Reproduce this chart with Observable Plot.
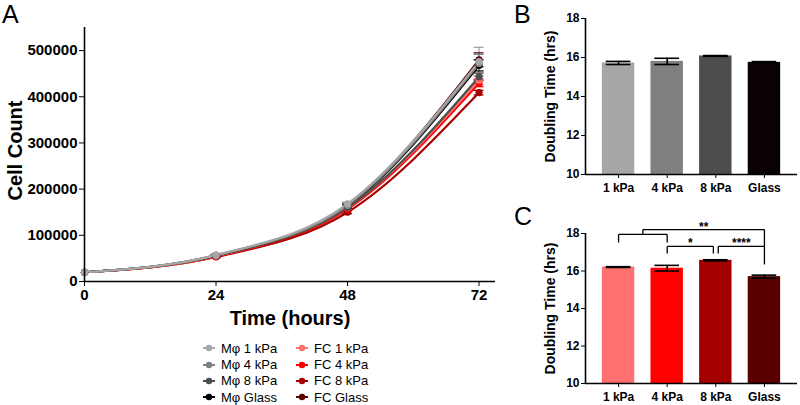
<!DOCTYPE html>
<html><head><meta charset="utf-8">
<script src="https://cdn.jsdelivr.net/npm/d3@7"></script>
<script src="https://cdn.jsdelivr.net/npm/@observablehq/plot@0.6"></script>
<style>
body{margin:0;background:#fff;}
#root{position:relative;width:800px;height:405px;overflow:hidden;font-family:"Liberation Sans",Arial,sans-serif;color:#000}
.panel{position:absolute}
.panel svg{overflow:visible}
.letter{position:absolute;font-size:25px;line-height:1}
#legend{position:absolute;left:203px;top:340px;display:grid;grid-template-columns:93px 93px;grid-auto-rows:16.4px;font-size:13px}
.item{display:flex;align-items:center;white-space:nowrap}
.item svg{margin-right:6px}
</style></head>
<body><div id="root">
<div id="A" class="panel" style="left:0;top:0"></div>
<div id="B" class="panel" style="left:540px;top:0"></div>
<div id="C" class="panel" style="left:540px;top:200px"></div>
<div class="letter" style="left:2px;top:2px">A</div>
<div class="letter" style="left:514px;top:2px">B</div>
<div class="letter" style="left:514px;top:204px">C</div>
<div id="legend"></div>
</div>
<script>
// ---------- Panel A data ----------
const times = [0, 24, 48, 72];
const seriesNames = ["Mφ 1 kPa", "Mφ 4 kPa", "Mφ 8 kPa", "Mφ Glass", "FC 1 kPa", "FC 4 kPa", "FC 8 kPa", "FC Glass"];
const seriesColors = ["#a6a6a6", "#808080", "#4d4d4d", "#000000", "#ff7070", "#ff0000", "#a80000", "#5c0000"];
const mphi1kPa  = [20000, 57000, 168000, 476000];
const mphi4kPa  = [20000, 57000, 165000, 472000];
const mphi8kPa  = [20000, 56000, 160000, 443000];
const mphiGlass = [20000, 56000, 163000, 468000];
const fc1kPa    = [20000, 55000, 160000, 436000];
const fc4kPa    = [20000, 54000, 157000, 430000];
const fc8kPa    = [20000, 53000, 150000, 409000];
const fcGlass   = [20000, 56000, 166000, 480000];
const mphi1kPaErr  = [0, 2000, 4000, 31000];
const mphi4kPaErr  = [0, 2000, 4000, 20000];
const mphi8kPaErr  = [0, 2000, 3000, 8000];
const mphiGlassErr = [0, 2000, 3000, 12000];
const fc1kPaErr    = [0, 2000, 3000, 10000];
const fc4kPaErr    = [0, 2000, 3000, 8000];
const fc8kPaErr    = [0, 2000, 3000, 5000];
const fcGlassErr   = [0, 2000, 4000, 15000];
const cellTicks = [0, 100000, 200000, 300000, 400000, 500000];

// ---------- Panels B / C data ----------
const stiffness = ["1 kPa", "4 kPa", "8 kPa", "Glass"];
const mphiDoubling = [15.72, 15.80, 16.08, 15.75];
const mphiDoublingErr = [0.08, 0.16, 0.02, 0.04];
const fcDoubling = [16.21, 16.15, 16.57, 15.70];
const fcDoublingErr = [0.02, 0.15, 0.03, 0.08];
const mphiBarColors = ["#a6a6a6", "#808080", "#4d4d4d", "#0a0202"];
const fcBarColors = ["#ff7070", "#ff0000", "#a50000", "#5a0000"];
const doublingTicks = [10, 12, 14, 16, 18];
// significance brackets for FC (positions in category units: 0.5 = 1 kPa centre, 1.5 = 4 kPa ...)
const sigFrom  = [0.5, 1.0, 1.5, 2.55];
const sigTo    = [1.5, 3.5, 2.45, 3.5];
const sigLevel = [17.95, 18.21, 17.31, 17.31];
const sigDropL = [17.52, 17.95, 16.93, 16.93];
const sigDropR = [17.52, 16.35, 16.93, 17.31];
const sigLabel = ["", "**", "*", "****"];

const FONT = '"Liberation Sans", Arial, sans-serif';

// ---------- Panel A ----------
const seriesValues = [mphi1kPa, mphi4kPa, mphi8kPa, mphiGlass, fc1kPa, fc4kPa, fc8kPa, fcGlass];
const seriesErrs = [mphi1kPaErr, mphi4kPaErr, mphi8kPaErr, mphiGlassErr, fc1kPaErr, fc4kPaErr, fc8kPaErr, fcGlassErr];
const drawOrder = [7, 6, 5, 4, 3, 2, 1, 0];
const rowsA = drawOrder.flatMap(s => times.map((t, j) => ({series: seriesNames[s], t, v: seriesValues[s][j], e: seriesErrs[s][j]})));
const errRowsA = rowsA.filter(d => d.e > 0);

const plotA = Plot.plot({
  width: 540, height: 335,
  marginLeft: 84, marginRight: 45, marginTop: 27, marginBottom: 54,
  style: {fontFamily: FONT, fontSize: "15px", fontWeight: "bold", color: "#000", background: "transparent"},
  x: {domain: [0, 75], ticks: times, tickSize: 5, tickPadding: 3, label: null},
  y: {domain: [0, 550000], ticks: cellTicks, tickFormat: d3.format("d"), tickSize: 5, tickPadding: 2, label: null},
  color: {domain: seriesNames, range: seriesColors},
  marks: [
    Plot.ruleX(errRowsA, {x: "t", y1: d => d.v - d.e, y2: d => d.v + d.e, stroke: "series", strokeWidth: 1.3}),
    Plot.ruleY(errRowsA, {x1: "t", x2: "t", y: d => d.v + d.e, stroke: "series", strokeWidth: 1.3, insetLeft: -5, insetRight: -5}),
    Plot.ruleY(errRowsA, {x1: "t", x2: "t", y: d => d.v - d.e, stroke: "series", strokeWidth: 1.3, insetLeft: -5, insetRight: -5}),
    Plot.line(rowsA, {x: "t", y: "v", z: "series", stroke: "series", strokeWidth: 2.2, curve: "monotone-x"}),
    Plot.dot(rowsA, {x: "t", y: "v", fill: "series", r: 3.6}),
    Plot.ruleY([0], {stroke: "#000", strokeWidth: 1.6}),
    Plot.ruleX([0], {stroke: "#000", strokeWidth: 1.6}),
    Plot.text(["Cell Count"], {text: d => d, frameAnchor: "left", textAnchor: "middle", lineAnchor: "middle", rotate: -90, dx: -69, dy: -4, fontSize: 20, fontWeight: "bold"}),
    Plot.text(["Time (hours)"], {text: d => d, frameAnchor: "bottom", textAnchor: "middle", lineAnchor: "middle", dy: 37, fontSize: 20, fontWeight: "bold"})
  ]
});
document.getElementById("A").append(plotA);

// ---------- Bar panels ----------
function barPanel(values, errs, colors, opt) {
  const rows = stiffness.map((c, i) => ({c, i, v: values[i], e: errs[i], color: colors[i]}));
  const xDomain = [-0.18, 4.18];
  const marks = [
    Plot.rectY(rows, {x1: "i", x2: d => d.i + 1, y1: 10, y2: "v", fill: "color", insetLeft: 8.1, insetRight: 8.1}),
    Plot.ruleX(rows, {x: d => d.i + 0.5, y1: d => d.v - d.e, y2: d => d.v + d.e, stroke: "#000", strokeWidth: 1.6}),
    Plot.ruleY(rows, {x1: "i", x2: d => d.i + 1, y: d => d.v + d.e, stroke: "#000", strokeWidth: 1.6, insetLeft: 12, insetRight: 12}),
    Plot.ruleY(rows, {x1: "i", x2: d => d.i + 1, y: d => d.v - d.e, stroke: "#000", strokeWidth: 1.6, insetLeft: 12, insetRight: 12}),
    Plot.ruleY([10], {stroke: "#000", strokeWidth: 1.6}),
    Plot.ruleX([xDomain[0]], {stroke: "#000", strokeWidth: 1.6}),
    Plot.text(["Doubling Time (hrs)"], {text: d => d, frameAnchor: "left", textAnchor: "middle", lineAnchor: "middle", rotate: -90, dx: -35, fontSize: 14, fontWeight: "bold"})
  ];
  if (opt.brackets) {
    const br = sigFrom.map((f, k) => ({from: f, to: sigTo[k], level: sigLevel[k], dl: sigDropL[k], dr: sigDropR[k], label: sigLabel[k]}));
    const segs = br.flatMap(b => [
      {x1: b.from, y1: b.level, x2: b.to, y2: b.level},
      {x1: b.from, y1: b.level, x2: b.from, y2: b.dl},
      {x1: b.to, y1: b.level, x2: b.to, y2: b.dr}
    ]);
    marks.push(Plot.link(segs, {x1: "x1", y1: "y1", x2: "x2", y2: "y2", stroke: "#000", strokeWidth: 1.3}));
    marks.push(Plot.text(br.filter(b => b.label), {x: b => (b.from + b.to) / 2, y: "level", text: "label", lineAnchor: "bottom", dy: 1, fontSize: 12, fontWeight: "bold"}));
  }
  return Plot.plot({
    width: 260, height: opt.height,
    marginLeft: 45, marginRight: 3, marginTop: opt.marginTop, marginBottom: opt.marginBottom,
    style: {fontFamily: FONT, fontSize: "12px", fontWeight: "bold", color: "#000", background: "transparent"},
    x: {domain: xDomain, ticks: stiffness.map((c, i) => i + 0.5), tickFormat: d => stiffness[Math.round(d - 0.5)], tickSize: 4, tickPadding: 5, label: null},
    y: {domain: [10, 18], ticks: doublingTicks, tickSize: 4, tickPadding: 2, label: null},
    color: {type: "identity"},
    marks
  });
}
document.getElementById("B").append(barPanel(mphiDoubling, mphiDoublingErr, mphiBarColors, {height: 200, marginTop: 18, marginBottom: 26}));
document.getElementById("C").append(barPanel(fcDoubling, fcDoublingErr, fcBarColors, {height: 205, marginTop: 33, marginBottom: 22, brackets: true}));

// ---------- Legend (two columns) ----------
const legend = document.getElementById("legend");
const order = [0, 4, 1, 5, 2, 6, 3, 7];
for (const s of order) {
  const item = document.createElement("div");
  item.className = "item";
  item.innerHTML = `<svg width="12" height="8"><line x1="0" y1="4" x2="12" y2="4" stroke="${seriesColors[s]}" stroke-width="2"/><circle cx="6" cy="4" r="3.2" fill="${seriesColors[s]}"/></svg><span>${seriesNames[s]}</span>`;
  legend.append(item);
}
</script>
</body></html>
